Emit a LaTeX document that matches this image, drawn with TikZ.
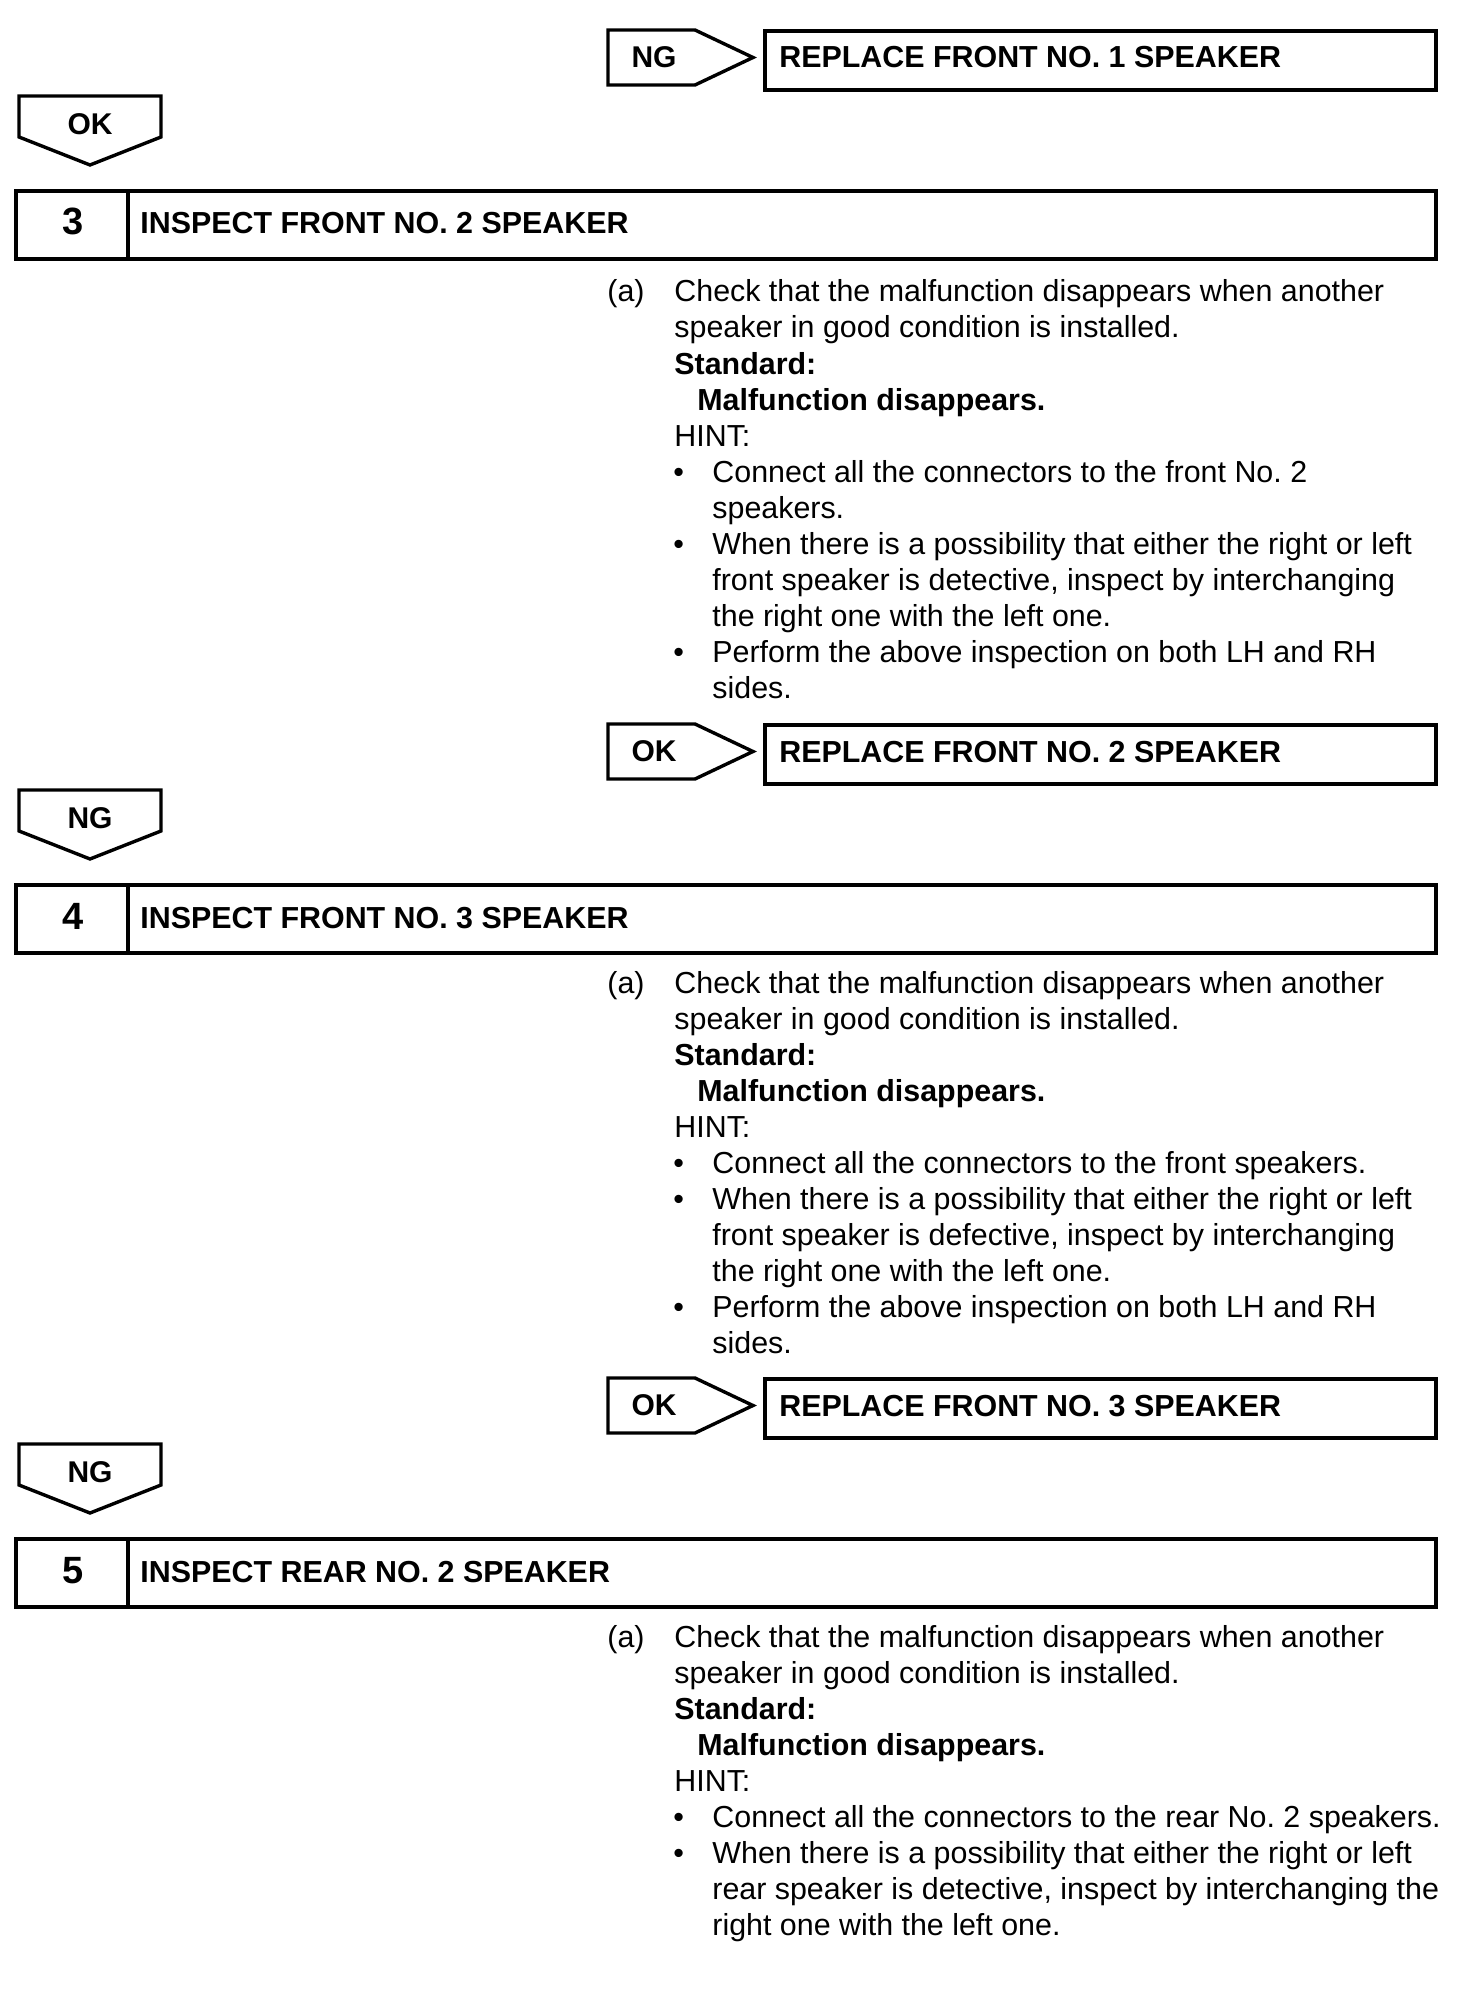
\documentclass[tikz,border=0pt]{standalone}
\usepackage{fontspec}
\setmainfont{Liberation Sans}
\frenchspacing

\begin{document}
\begin{tikzpicture}[x=0.5pt, y=-0.5pt, font=\fontsize{15.2}{18}\selectfont,
  frame/.style={draw, line width=1.7pt, line join=miter},
  tagtext/.style={inner sep=0pt, font=\fontsize{15}{18}\selectfont\bfseries},
  head/.style={anchor=base west, inner sep=0pt,
               font=\fontsize{15.2}{18}\selectfont\bfseries},
  num/.style={anchor=base, inner sep=0pt, font=\fontsize{19}{22}\selectfont\bfseries},
  txt/.style={anchor=base west, inner sep=0pt}]
  \useasboundingbox (0,0) rectangle (1456,2006);

  % result tags, replace boxes and step headers
  \foreach \T/\side/\down/\rep/\s/\title in {
      30/NG/OK/{REPLACE FRONT NO. 1 SPEAKER}/3/{INSPECT FRONT NO. 2 SPEAKER},
      724/OK/NG/{REPLACE FRONT NO. 2 SPEAKER}/4/{INSPECT FRONT NO. 3 SPEAKER},
      1378/OK/NG/{REPLACE FRONT NO. 3 SPEAKER}/5/{INSPECT REAR NO. 2 SPEAKER}} {
    \draw[frame] (608,\T) -- (695,\T) -- (753,\T+27.5) -- (695,\T+55)
      -- (608,\T+55) -- cycle;
    \node[tagtext] (side\s) at (654,\T+27) {\side};
    \draw[frame] (765,\T+1) rectangle (1436,\T+60);
    \node[head] (rep\s) at (779,\T+38) {\rep};
    \draw[frame] (19,\T+66) -- (161,\T+66) -- (161,\T+107) -- (90,\T+135)
      -- (19,\T+107) -- cycle;
    \node[tagtext] (down\s) at (90,\T+94) {\down};
    \draw[frame] (16,\T+161) rectangle (1436,\T+229);
    \draw[frame] (128,\T+161) -- (128,\T+229);
    \node[num] (num\s) at (73,\T+205) {\s};
    \node[head] (head\s) at (140,\T+204) {\title};
  }

  % common lines of each check
  \foreach \s/\B in {3/302, 4/993, 5/1647} {
    \node[txt] (a\s) at (607,\B) {(a)};
    \node[txt] (chk\s) at (674,\B) {Check that the malfunction disappears when another};
    \node[txt] (spk\s) at (674,\B+36) {speaker in good condition is installed.};
    \node[txt] (std\s) at (674,\B+72) {\textbf{Standard:}};
    \node[txt] (mal\s) at (697,\B+108) {\textbf{Malfunction disappears.}};
    \node[txt] (hint\s) at (674,\B+144) {HINT:};
  }

  % hints of step 3
  \foreach \i/\t in {5/{Connect all the connectors to the front No. 2},
      6/{speakers.},
      7/{When there is a possibility that either the right or left},
      8/{front speaker is detective, inspect by interchanging},
      9/{the right one with the left one.},
      10/{Perform the above inspection on both LH and RH},
      11/{sides.}}
    \node[txt] (h3l\i) at (712,302+36*\i) {\t};
  \foreach \i in {5,7,10}
    \node[txt] (b3l\i) at (673,302+36*\i) {\textbullet};

  % hints of step 4
  \foreach \i/\t in {5/{Connect all the connectors to the front speakers.},
      6/{When there is a possibility that either the right or left},
      7/{front speaker is defective, inspect by interchanging},
      8/{the right one with the left one.},
      9/{Perform the above inspection on both LH and RH},
      10/{sides.}}
    \node[txt] (h4l\i) at (712,993+36*\i) {\t};
  \foreach \i in {5,6,9}
    \node[txt] (b4l\i) at (673,993+36*\i) {\textbullet};

  % hints of step 5
  \foreach \i/\t in {5/{Connect all the connectors to the rear No. 2 speakers.},
      6/{When there is a possibility that either the right or left},
      7/{rear speaker is detective, inspect by interchanging the},
      8/{right one with the left one.}}
    \node[txt] (h5l\i) at (712,1647+36*\i) {\t};
  \foreach \i in {5,6}
    \node[txt] (b5l\i) at (673,1647+36*\i) {\textbullet};
\end{tikzpicture}
\end{document}
